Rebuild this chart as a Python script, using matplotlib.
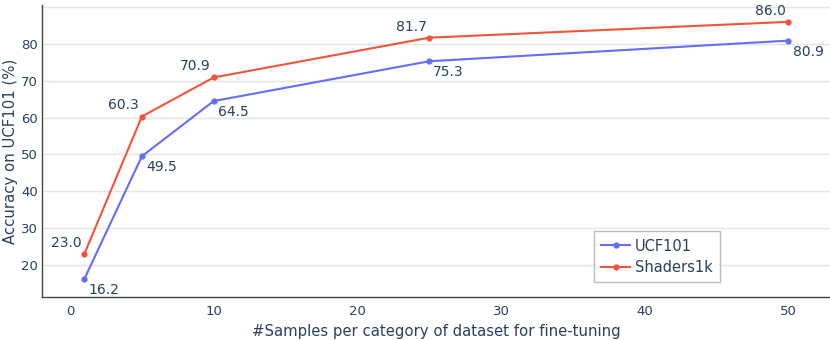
import matplotlib
matplotlib.use("Agg")
import matplotlib.pyplot as plt

# data
samples = [1, 5, 10, 25, 50]
ucf101 = [16.2, 49.5, 64.5, 75.3, 80.9]
shaders1k = [23.0, 60.3, 70.9, 81.7, 86.0]

text_col = '#2a3f5f'
blue = '#636efa'
red = '#ef553b'

plt.rcParams['font.family'] = 'DejaVu Sans'
fig = plt.figure(figsize=(8.3, 3.4), dpi=100)
ax = fig.add_axes([0.0506, 0.1265, 0.9494, 0.858])

ax.plot(samples, ucf101, color=blue, lw=1.5, marker='o', ms=3.5, label='UCF101', zorder=3)
ax.plot(samples, shaders1k, color=red, lw=1.5, marker='o', ms=3.5, label='Shaders1k', zorder=3)

for x, y in zip(samples, ucf101):
    ax.annotate(f'{y:.1f}', (x, y), xytext=(3, -3), textcoords='offset points',
                ha='left', va='top', fontsize=10, color=text_col)
for x, y in zip(samples, shaders1k):
    ax.annotate(f'{y:.1f}', (x, y), xytext=(-2, 3), textcoords='offset points',
                ha='right', va='bottom', fontsize=10, color=text_col)

ax.set_xlim(-1.95, 52.9)
ax.set_ylim(11.3, 90.5)
ax.set_xticks([0, 10, 20, 30, 40, 50])
ax.set_yticks([20, 30, 40, 50, 60, 70, 80, 90])
ax.set_yticklabels(['20', '30', '40', '50', '60', '70', '80', ''])
ax.grid(axis='y', color='#e5e5e5', lw=1)
ax.set_axisbelow(True)
ax.tick_params(length=0, labelsize=9.5, labelcolor=text_col)
ax.tick_params(axis='y', pad=3)
ax.tick_params(axis='x', pad=6)
for s in ['top', 'right']:
    ax.spines[s].set_visible(False)
for s in ['left', 'bottom']:
    ax.spines[s].set_color('#444444')
    ax.spines[s].set_linewidth(1)

ax.set_xlabel('#Samples per category of dataset for fine-tuning', fontsize=10.7, color=text_col, labelpad=4)
ax.set_ylabel('Accuracy on UCF101 (%)', fontsize=10.7, color=text_col)
ax.yaxis.set_label_coords(-0.031, 0.5)

leg = ax.legend(loc='lower left', bbox_to_anchor=(0.7005, 0.05), fontsize=10.5, frameon=True,
                fancybox=False, edgecolor='#aaaaaa', handlelength=2.0, borderpad=0.5,
                labelspacing=0.45, handletextpad=0.3, borderaxespad=0)
leg.get_frame().set_linewidth(1)
for t in leg.get_texts():
    t.set_color(text_col)

fig.savefig('out.png', dpi=100)
